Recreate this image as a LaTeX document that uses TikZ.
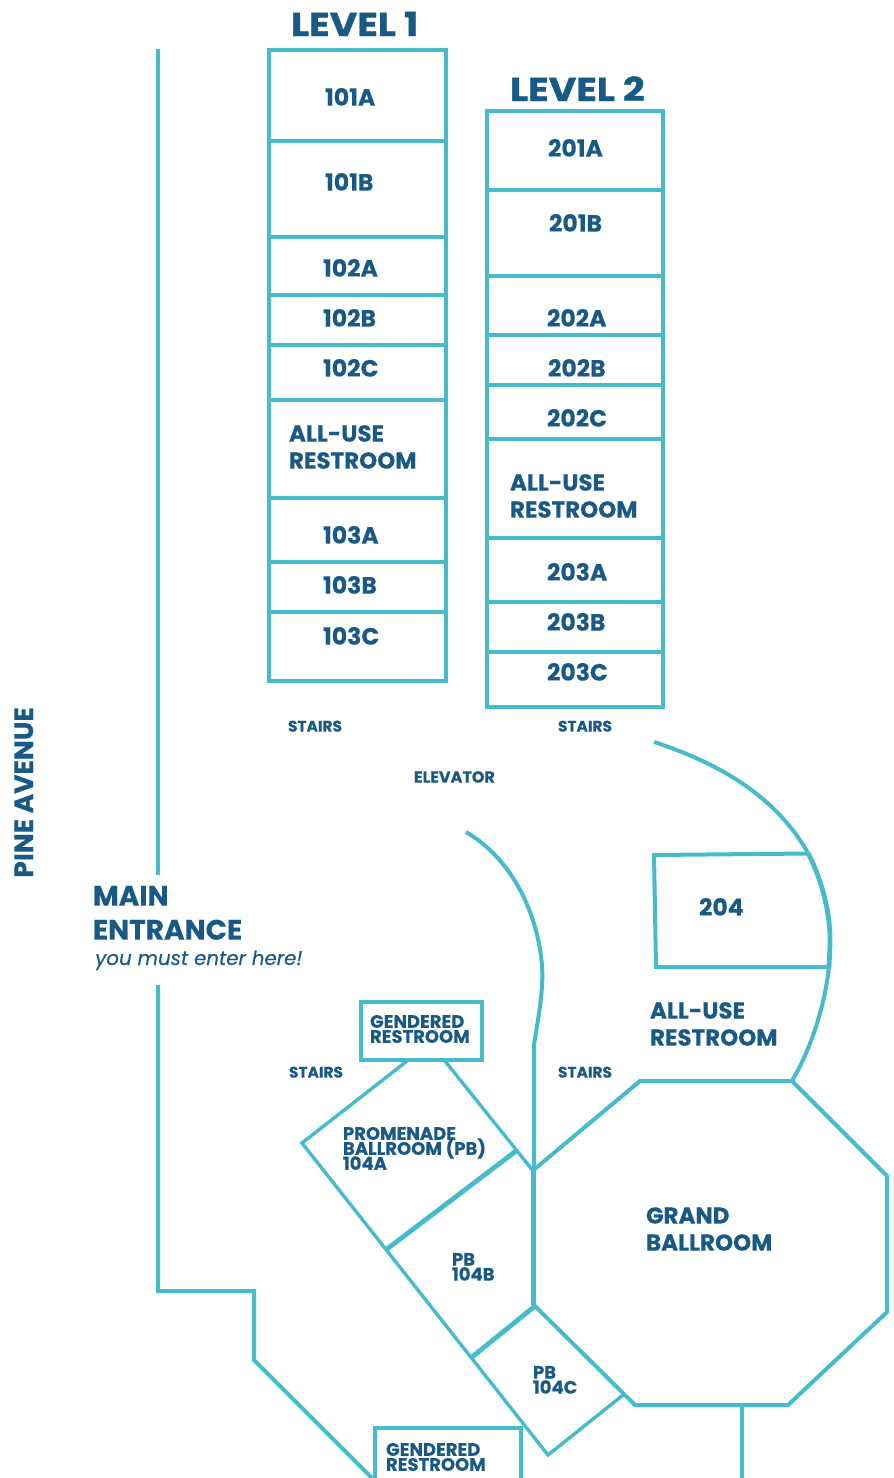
\documentclass[tikz,border=0pt]{standalone}
\usepackage{fontspec}
\setmainfont{Poppins}[BoldFeatures={FakeBold=0.35},ItalicFeatures={FakeBold=0.3}]
\newfontfamily\headfont{Poppins}[BoldFeatures={FakeStretch=1.15,FakeBold=1.0}]
\newcommand{\tightsetup}{\bfseries\fontsize{18}{15}\selectfont\lineskiplimit=-50pt\relax}
\definecolor{wall}{HTML}{45BBCB}
\definecolor{ink}{HTML}{195A85}
\tikzset{
  wallline/.style={draw=wall,line width=4pt,line cap=butt,line join=miter},
  thickwall/.style={draw=wall,line width=4.8pt,line join=miter},
  thinwall/.style={draw=wall,line width=3.4pt,line join=miter},
  lbl/.style={anchor=base west,inner sep=0pt,outer sep=0pt,yshift=-0.6pt,text=ink,font=\bfseries\fontsize{#1}{#1}\selectfont},
  lbl/.default=23.5,
  headlbl/.style={anchor=base west,inner sep=0pt,outer sep=0pt,text=ink,font=\headfont\bfseries\fontsize{33}{33}\selectfont},
  tightlbl/.style={anchor=north west,inner sep=0pt,outer sep=0pt,align=left,text=ink,font=\tightsetup}
}
\begin{document}
\begin{tikzpicture}[x=1pt,y=-1pt]
\useasboundingbox (0,0) rectangle (894,1478);
% Level 1
\draw[wallline] (269,50) rectangle (445.5,681);
\foreach \yy in {141,237,295,345,400,498,562,612} \draw[wallline] (269,\yy) -- (445.5,\yy);
% Level 2
\draw[wallline] (487,111) rectangle (663,707);
\foreach \yy in {190,276,335,385,439,538,602,652} \draw[wallline] (487,\yy) -- (663,\yy);
% Outer walls
\draw[wallline] (158,49) -- (158,875);
\draw[wallline] (158,985) -- (158,1291) -- (254,1291) -- (254,1360) -- (372,1478);
\draw[wallline] (466,832) .. controls (530,870) and (545,950) .. (542,985) .. controls (541,1005) and (537,1025) .. (534,1045) -- (534,1172);
% Right arc
\draw[wallline] (654,742) .. controls (725,765) and (778,800) .. (808,853);
\draw[thickwall] (808,853) .. controls (822,880) and (831,915) .. (830,945) -- (829,967);
\draw[wallline] (829,967) .. controls (824,1010) and (810,1050) .. (792,1081);
% 204
\draw[wallline] (808,853.5) -- (654,855) -- (656,967) -- (829,967);
% Octagon
\draw[wallline] (533.5,1170) -- (640,1081) -- (792,1081) -- (887,1176) -- (887,1312) -- (788,1405) -- (635,1405) -- (534,1305) -- cycle;
\draw[thickwall] (533.5,1170) -- (533.5,1305);
\draw[wallline] (742,1405) -- (742,1478);
% Ballrooms
\draw[wallline] (361,1002) rectangle (482,1060);
\draw[thinwall] (407,1061) -- (302,1143) -- (548,1455) -- (623,1395);
\draw[thinwall] (445,1061) -- (534,1172);
\draw[thickwall] (516,1151) -- (387,1249);
\draw[thickwall] (535,1306) -- (472,1357);
% Lower restroom
\draw[wallline] (375,1478) -- (375,1428) -- (521,1428) -- (521,1478);
% Labels
\node[headlbl] (l1) at (291,36) {LEVEL 1};
\node[headlbl] (l2) at (510,101) {LEVEL 2};
\node[lbl] (a) at (325,105) {101A};
\node[lbl] (b) at (325,190) {101B};
\node[lbl] (c) at (323,276) {102A};
\node[lbl] (d) at (323,326) {102B};
\node[lbl] (e) at (323,376) {102C};
\node[lbl=23] (f) at (289,441) {ALL-USE};
\node[lbl=23] (g) at (289,468) {RESTROOM};
\node[lbl] (h) at (323,543) {103A};
\node[lbl] (i) at (323,593) {103B};
\node[lbl] (j) at (323,644) {103C};
\node[lbl] (k) at (548,156) {201A};
\node[lbl] (m) at (549,231) {201B};
\node[lbl] (n) at (547,326) {202A};
\node[lbl] (o) at (548,376) {202B};
\node[lbl] (p) at (547,426) {202C};
\node[lbl=23] (q) at (510,490) {ALL-USE};
\node[lbl=23] (r) at (510,517) {RESTROOM};
\node[lbl] (s) at (547,580) {203A};
\node[lbl] (t) at (547,630) {203B};
\node[lbl] (u) at (547,680) {203C};
\node[lbl=15.4] (st1) at (288,731) {STAIRS};
\node[lbl=15.4] (st2) at (558,731) {STAIRS};
\node[lbl=16] (el) at (414,782) {ELEVATOR};
\node[lbl=15.4] (st3) at (289,1077) {STAIRS};
\node[lbl=15.4] (st4) at (558,1077) {STAIRS};
\node[lbl] (two) at (699,915) {204};
\node[lbl=23] (v) at (650,1018) {ALL-USE};
\node[lbl=23] (w) at (650,1045) {RESTROOM};
\node[lbl=23] (x) at (646,1223) {GRAND};
\node[lbl=23] (y) at (646,1250) {BALLROOM};
\node[lbl=28] (me1) at (93,905) {MAIN};
\node[lbl=28] (me2) at (93,939) {ENTRANCE};
\node[anchor=base west,inner sep=0pt,text=ink,font=\fontsize{19.8}{20}\selectfont\itshape] (me3) at (95,965) {you must enter here!};
\node[lbl=26.5,rotate=90] (pine) at (33,877) {PINE AVENUE};
\node[tightlbl] (g12) at (370,1015) {GENDERED\\RESTROOM};
\node[tightlbl] (g34) at (386,1443) {GENDERED\\RESTROOM};
\node[tightlbl] (pa) at (343,1127) {PROMENADE\\BALLROOM (PB)\\104A};
\node[tightlbl] (pb) at (452,1253) {PB\\104B};
\node[tightlbl] (pc) at (533,1366) {PB\\104C};
\end{tikzpicture}
\end{document}
